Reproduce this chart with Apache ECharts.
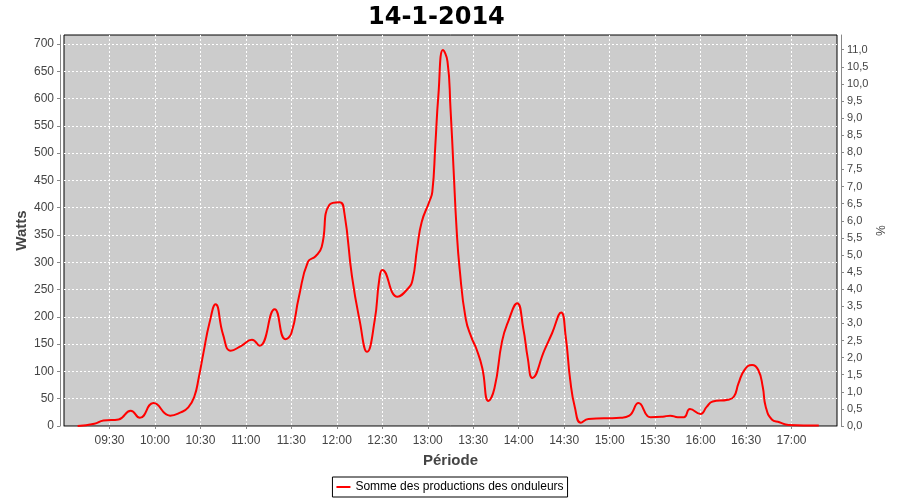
<!DOCTYPE html>
<html>
<head>
<meta charset="utf-8">
<script src="https://cdn.jsdelivr.net/npm/echarts@6/dist/echarts.min.js"></script>
<style>html,body{margin:0;padding:0;background:#fff;}#chart{width:900px;height:500px;}</style>
</head>
<body>
<div id="chart"></div>
<script>
const chartTitle = '14-1-2014';
const seriesName = 'Somme des productions des onduleurs';
const times = ['09:09','09:20','09:26','09:36','09:44','09:50','09:59','10:10','10:17','10:22','10:26','10:29','10:32','10:36','10:40','10:45','10:50','10:57','11:04','11:09','11:19','11:26','11:30','11:35','11:41','11:46','11:50','11:55','12:02','12:05','12:10','12:15','12:20','12:25','12:28','12:30','12:40','12:47','12:50','12:53','12:56','13:01','13:03','13:05','13:07','13:10','13:13','13:15','13:17','13:19','13:21','13:25','13:29','13:32','13:36','13:40','13:44','13:49','13:53','13:59','14:03','14:06','14:09','14:17','14:22','14:28','14:31','14:34','14:37','14:41','14:46','15:07','15:13','15:19','15:25','15:27','15:35','15:40','15:45','15:49','15:53','16:00','16:04','16:08','16:18','16:22','16:25','16:29','16:34','16:38','16:41','16:43','16:47','16:52','16:58','17:18'];
const watts = [0,4,10,12,28,15,42,19,25,34,54,90,134,189,223,167,138,147,158,147,214,159,170,237,301,311,328,405,410,390,274,194,136,194,268,286,237,252,268,326,374,411,429,515,606,689,668,582,472,362,289,197,161,142,106,46,69,155,191,225,179,124,88,139,170,208,164,84,35,6,13,15,19,42,18,16,17,19,16,16,31,22,35,45,48,54,78,103,112,103,72,35,12,7,2,1];
const xTickLabels = ['09:30','10:00','10:30','11:00','11:30','12:00','12:30','13:00','13:30','14:00','14:30','15:00','15:30','16:00','16:30','17:00'];
const wattTicks = [0,50,100,150,200,250,300,350,400,450,500,550,600,650,700];
const pctTicks = [0,0.5,1,1.5,2,2.5,3,3.5,4,4.5,5,5.5,6,6.5,7,7.5,8,8.5,9,9.5,10,10.5,11];

const toMin = s => { const p = s.split(':'); return (+p[0]) * 60 + (+p[1]); };
const fmtMin = m => { const h = Math.floor(m / 60), mm = Math.round(m % 60); return (h < 10 ? '0' : '') + h + ':' + (mm < 10 ? '0' : '') + mm; };
const data = times.map((t, i) => [toMin(t), watts[i]]);
const tickVals = xTickLabels.map(toMin);

const FONT = 'Liberation Sans';
const axisGray = '#888888';
const labelColor = '#444444';
const gridLine = {show: true, lineStyle: {color: '#ffffff', type: [2, 2], width: 1}};

const chart = echarts.init(document.getElementById('chart'), null, {renderer: 'canvas'});
chart.setOption({
  animation: false,
  backgroundColor: '#ffffff',
  textStyle: {fontFamily: FONT},
  title: {
    text: chartTitle, left: 363, top: 1,
    textStyle: {fontFamily: 'DejaVu Sans', fontSize: 24, fontWeight: 'bold', color: '#000'}
  },
  grid: {
    left: 64, right: 63, top: 35, bottom: 74,
    show: true, backgroundColor: '#cccccc', borderColor: '#000', borderWidth: 1,
    outerBoundsMode: 'none', z: 0
  },
  legend: {
    data: [seriesName], left: 'center', top: 477,
    borderColor: '#000', borderWidth: 1, padding: [4, 4, 4, 4],
    icon: 'rect', itemWidth: 14, itemHeight: 2, itemGap: 4,
    textStyle: {fontFamily: FONT, fontSize: 12, color: '#000'}
  },
  xAxis: {
    type: 'value', min: 540, max: 1050, interval: 30, offset: 4,
    name: 'Période', nameLocation: 'middle', nameGap: 23, nameMoveOverlap: false,
    nameTextStyle: {fontFamily: FONT, fontWeight: 'bold', fontSize: 15, color: labelColor},
    axisLine: {lineStyle: {color: axisGray}},
    axisTick: {length: 3, lineStyle: {color: axisGray}, customValues: tickVals},
    axisLabel: {color: labelColor, fontSize: 12, margin: 5,
      customValues: tickVals, formatter: v => fmtMin(v)},
    splitLine: gridLine
  },
  yAxis: [{
    type: 'value', min: 0, max: 716.5, interval: 50, offset: 4, position: 'left',
    name: 'Watts', nameLocation: 'middle', nameGap: 31, nameMoveOverlap: false,
    nameTextStyle: {fontFamily: FONT, fontWeight: 'bold', fontSize: 15, color: labelColor},
    axisLine: {show: true, lineStyle: {color: axisGray}},
    axisTick: {show: true, length: 3, lineStyle: {color: axisGray}, customValues: wattTicks},
    axisLabel: {color: labelColor, fontSize: 12, margin: 6, customValues: wattTicks,
      formatter: v => String(v)},
    splitLine: gridLine
  }, {
    type: 'value', min: 0, max: 11.43, interval: 0.5, offset: 4, position: 'right',
    name: '%', nameLocation: 'middle', nameGap: 32, nameRotate: -90, nameMoveOverlap: false,
    nameTextStyle: {fontFamily: FONT, fontSize: 12, color: labelColor},
    axisLine: {show: true, lineStyle: {color: axisGray}},
    axisTick: {show: true, length: 3, lineStyle: {color: axisGray}, customValues: pctTicks},
    axisLabel: {color: labelColor, fontSize: 11, margin: 6, customValues: pctTicks,
      formatter: v => v.toFixed(1).replace('.', ',')},
    splitLine: {show: false}
  }],
  series: [{
    name: seriesName, type: 'line', data: data, yAxisIndex: 0,
    smooth: 0.5, showSymbol: false, symbol: 'none',
    lineStyle: {color: '#ff0000', width: 2}, itemStyle: {color: '#ff0000'}
  }]
});
</script>
</body>
</html>
